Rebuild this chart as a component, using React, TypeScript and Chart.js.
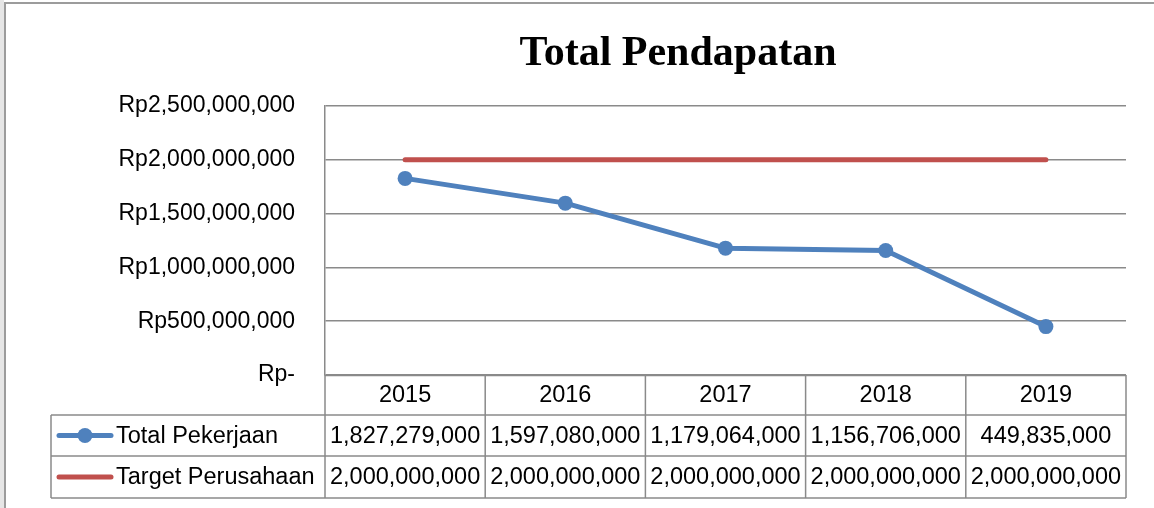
import React, { useEffect, useRef } from "react";
import { Chart, registerables } from "chart.js";

Chart.register(...registerables);

const title = "Total Pendapatan";
const years = ["2015", "2016", "2017", "2018", "2019"];
const totalPekerjaan = [1827279000, 1597080000, 1179064000, 1156706000, 449835000];
const targetPerusahaan = [2000000000, 2000000000, 2000000000, 2000000000, 2000000000];
const seriesNames = ["Total Pekerjaan", "Target Perusahaan"];
const yMin = 0;
const yMax = 2500000000;
const yStep = 500000000;

const BLUE = "#4F81BD";
const RED = "#C0504D";
const GRID = "#8a8a8a";
const FONT = "'Liberation Sans', Arial, sans-serif";

const fmtNum = (v: number) => v.toLocaleString("en-US");
const fmtRp = (v: number) => (v === 0 ? "Rp-" : "Rp" + fmtNum(v));

const decorPlugin = {
  id: "decor",
  afterDraw(chart: any) {
    const ctx = chart.ctx as CanvasRenderingContext2D;
    const xs = chart.scales.x;
    const area = chart.chartArea;
    const W = chart.width;
    const H = chart.height;
    ctx.save();
    // outer frame
    ctx.fillStyle = "#e6e6e6";
    ctx.fillRect(0, 0, 4, H);
    ctx.strokeStyle = "#9c9c9c";
    ctx.lineWidth = 2;
    ctx.beginPath();
    ctx.moveTo(5, H);
    ctx.lineTo(5, 3);
    ctx.lineTo(W, 3);
    ctx.stroke();

    // title
    ctx.fillStyle = "#000";
    ctx.font = "bold 42px 'Liberation Serif', 'Times New Roman', serif";
    ctx.textAlign = "center";
    ctx.textBaseline = "middle";
    ctx.fillText(title, 678, 54);

    // data table
    const catW = (area.right - area.left) / years.length;
    const rowTop = area.bottom;
    const r1 = rowTop + 40;
    const r2 = r1 + 41;
    const r3 = r2 + 42;
    const legLeft = 51;
    ctx.strokeStyle = GRID;
    ctx.lineWidth = 1.5;
    ctx.beginPath();
    // horizontals
    ctx.moveTo(area.left, rowTop + 0.5);
    ctx.lineTo(area.right, rowTop + 0.5);
    ctx.moveTo(legLeft, r1);
    ctx.lineTo(area.right, r1);
    ctx.moveTo(legLeft, r2);
    ctx.lineTo(area.right, r2);
    ctx.moveTo(legLeft, r3);
    ctx.lineTo(area.right, r3);
    // verticals
    ctx.moveTo(legLeft, r1);
    ctx.lineTo(legLeft, r3);
    for (let i = 0; i < years.length; i++) {
      const cx = xs.getPixelForValue(i);
      const l = cx - catW / 2;
      ctx.moveTo(l, rowTop);
      ctx.lineTo(l, r3);
    }
    const lastR = xs.getPixelForValue(years.length - 1) + catW / 2;
    ctx.moveTo(lastR, rowTop);
    ctx.lineTo(lastR, r3);
    ctx.stroke();

    // text
    ctx.fillStyle = "#000";
    ctx.font = "23.5px " + FONT;
    ctx.textBaseline = "middle";
    ctx.textAlign = "center";
    const rows = [totalPekerjaan, targetPerusahaan];
    const rowMid = [(r1 + r2) / 2 + 1, (r2 + r3) / 2 + 1];
    years.forEach((y, i) => {
      const cx = xs.getPixelForValue(i);
      ctx.fillText(y, cx, (rowTop + r1) / 2 + 1);
      rows.forEach((vals, j) => {
        ctx.fillText(fmtNum(vals[i]), cx, rowMid[j]);
      });
    });
    // legend keys
    ctx.textAlign = "left";
    const colors = [BLUE, RED];
    seriesNames.forEach((name, j) => {
      const ym = rowMid[j] - 1;
      ctx.strokeStyle = colors[j];
      ctx.lineWidth = 5;
      ctx.lineCap = "round";
      ctx.beginPath();
      ctx.moveTo(59, ym);
      ctx.lineTo(111, ym);
      ctx.stroke();
      if (j === 0) {
        ctx.fillStyle = BLUE;
        ctx.beginPath();
        ctx.arc(85, ym, 7.5, 0, Math.PI * 2);
        ctx.fill();
      }
      ctx.fillStyle = "#000";
      ctx.fillText(name, 116, rowMid[j]);
    });
    ctx.restore();
  },
};

export default function App() {
  const ref = useRef<HTMLCanvasElement | null>(null);
  useEffect(() => {
    if (!ref.current) return;
    const chart = new Chart(ref.current, {
      type: "line",
      data: {
        labels: years,
        datasets: [
          {
            label: seriesNames[0],
            data: totalPekerjaan,
            borderColor: BLUE,
            backgroundColor: BLUE,
            borderWidth: 5,
            pointRadius: 7.5,
            pointBackgroundColor: BLUE,
            pointBorderWidth: 0,
            borderCapStyle: "round",
            borderJoinStyle: "round",
            tension: 0,
          },
          {
            label: seriesNames[1],
            data: targetPerusahaan,
            borderColor: RED,
            backgroundColor: RED,
            borderWidth: 5,
            pointRadius: 0,
            borderCapStyle: "round",
            tension: 0,
          },
        ],
      },
      options: {
        animation: false,
        responsive: true,
        maintainAspectRatio: false,
        layout: { padding: { top: 106, bottom: 133, right: 28, left: 0 } },
        plugins: {
          legend: { display: false },
          title: { display: false },
          tooltip: { enabled: false },
        },
        scales: {
          x: {
            type: "category",
            offset: true,
            display: false,
            grid: { display: false },
          },
          y: {
            min: yMin,
            max: yMax,
            afterFit: (s: any) => {
              s.width = 325;
            },
            border: { display: true, color: GRID, width: 1.5 },
            grid: { color: GRID, lineWidth: 1.5, drawTicks: false },
            ticks: {
              stepSize: yStep,
              padding: 30,
              color: "#000",
              font: { family: FONT, size: 23 },
              callback: (v: any) => fmtRp(Number(v)),
            },
          },
        },
      },
      plugins: [decorPlugin],
    });
    return () => chart.destroy();
  }, []);
  return (
    <div style={{ position: "fixed", left: 0, top: 0, width: 1154, height: 508, background: "#fff" }}>
      <canvas ref={ref} />
    </div>
  );
}
